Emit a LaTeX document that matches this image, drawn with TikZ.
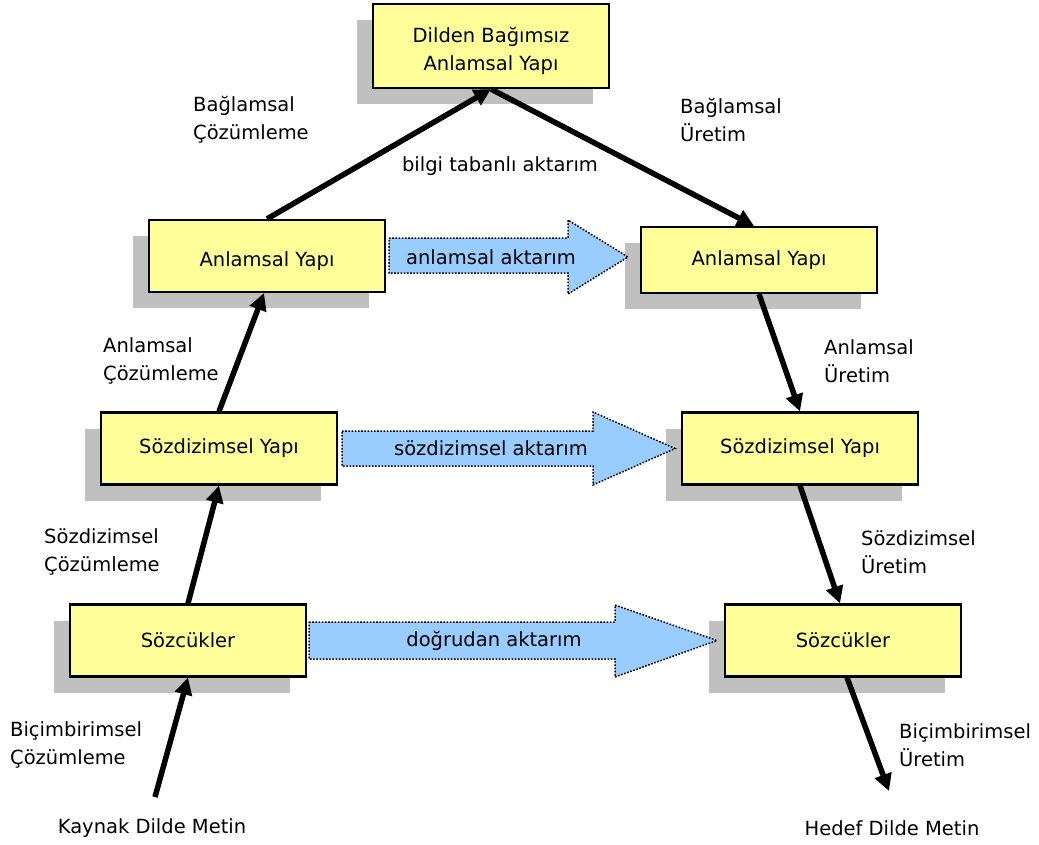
\documentclass[tikz,border=0pt]{standalone}
\usepackage{fontspec}
\setmainfont{DejaVu Sans}
\usetikzlibrary{arrows.meta,shadows}
\definecolor{boxyellow}{HTML}{FFFF99}
\definecolor{shadowgrey}{HTML}{C0C0C0}
\definecolor{xferblue}{HTML}{99CCFF}
\begin{document}
\begin{tikzpicture}[x=1pt,y=-1pt,
  every node/.style={font=\fontsize{19.5}{28}\selectfont},
  level/.style={draw=black,line width=2.2pt,fill=boxyellow,
    minimum width=236pt,minimum height=72pt,inner sep=2pt,align=center,
    drop shadow={shadow xshift=-16pt,shadow yshift=-16pt,fill=shadowgrey,opacity=1}},
  lbl/.style={anchor=west,align=left,inner sep=0pt},
  endlbl/.style={inner sep=0pt},
  xfer/.style={fill=xferblue,draw=black,line width=1.5pt,
    dash pattern=on 1.6pt off 1.6pt,line join=miter},
  xferlbl/.style={inner sep=0pt},
  flow/.style={line width=5.5pt,-{Triangle[length=17pt,width=17pt]}}]
\useasboundingbox (0,0) rectangle (1039,844);

% analysis / generation levels
\node[level,minimum height=84pt] (top) at (491,46) {};
\node[align=center,inner sep=0pt] (toptext) at ([yshift=-5pt]top.center) {Dilden Bağımsız\\Anlamsal Yapı};
\node[level] (lanl)  at (267,256)   {};
\node[inner sep=0pt] (lanltext) at ([yshift=-5pt]lanl.center) {Anlamsal Yapı};
\node[level] (lsoz)  at (219,448.5) {Sözdizimsel Yapı};
\node[level] (lsozc) at (188,640.5) {Sözcükler};
\node[level,minimum height=66pt] (ranl)  at (759,260) {Anlamsal Yapı};
\node[level] (rsoz)  at (800,448.5) {Sözdizimsel Yapı};
\node[level] (rsozc) at (843,640.5) {Sözcükler};

% transfer arrows
\path[xfer] (389,238) -- (568,238) -- (568,220) -- (628,257) -- (568,294) -- (568,273) -- (389,273) -- cycle;
\node[xferlbl] (t1) at (491,257) {anlamsal aktarım};
\path[xfer] (342,431) -- (593,431) -- (593,412) -- (675,448.5) -- (593,485) -- (593,466) -- (342,466) -- cycle;
\node[xferlbl] (t2) at (491,448.5) {sözdizimsel aktarım};
\path[xfer] (309,622) -- (615,622) -- (615,605) -- (717,640.5) -- (615,677) -- (615,659) -- (309,659) -- cycle;
\node[xferlbl] (t3) at (494,640.5) {doğrudan aktarım};

% source and target texts
\node[endlbl] (src) at (152,828) {Kaynak Dilde Metin};
\node[endlbl] (tgt) at (892,828) {Hedef Dilde Metin};
\coordinate (srcend) at (155,797);
\coordinate (tgtend) at (889,791);

% step labels
\node[lbl] (l1) at (193,120) {Bağlamsal\\Çözümleme};
\node[lbl] (r1) at (680,120) {Bağlamsal\\Üretim};
\node[endlbl] (kb) at (500,166) {bilgi tabanlı aktarım};
\node[lbl] (l2) at (103,361) {Anlamsal\\Çözümleme};
\node[lbl] (r2) at (824,361) {Anlamsal\\Üretim};
\node[lbl] (l3) at (44,552) {Sözdizimsel\\Çözümleme};
\node[lbl] (r3) at (861,552) {Sözdizimsel\\Üretim};
\node[lbl] (l4) at (10,745) {Biçimbirimsel\\Çözümleme};
\node[lbl] (r4) at (899,745) {Biçimbirimsel\\Üretim};

% analysis and generation steps
\draw[flow] (srcend) -- (lsozc.south);
\draw[flow] (lsozc.north) -- (lsoz.south);
\draw[flow] (lsoz.north) -- ([xshift=-3pt]lanl.south);
\draw[flow] (lanl.north) -- (top.south);
\draw[flow] (top.south) -- ([xshift=-5pt]ranl.north);
\draw[flow] (ranl.south) -- (rsoz.north);
\draw[flow] (rsoz.south) -- ([xshift=-3pt]rsozc.north);
\draw[flow] ([xshift=4pt]rsozc.south) -- (tgtend);
\end{tikzpicture}
\end{document}
